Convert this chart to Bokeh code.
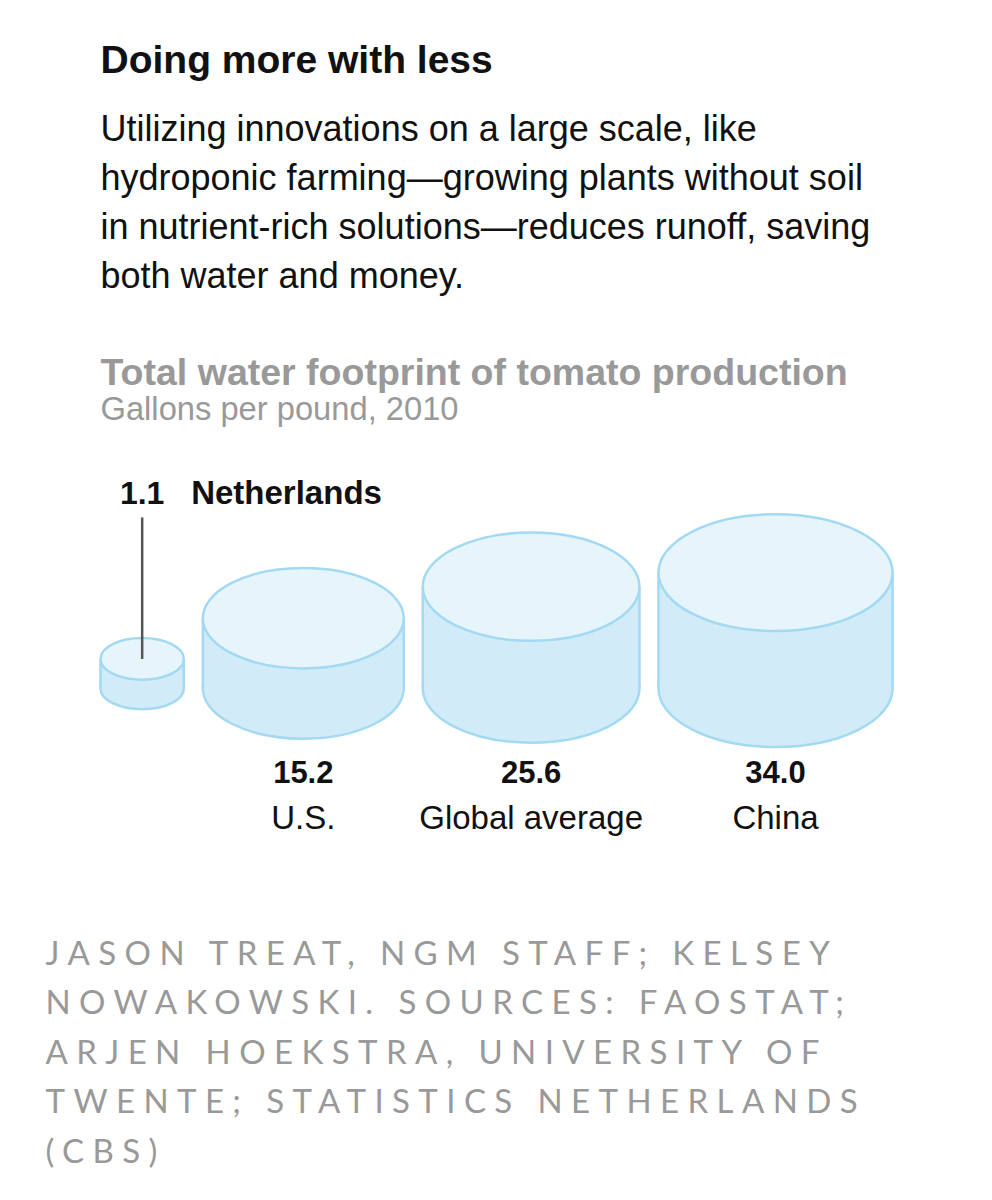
import numpy as np
from bokeh.plotting import figure
from bokeh.models import Range1d, ColumnDataSource
from bokeh.layouts import column
from bokeh.core.properties import value
from bokeh.embed import file_html
from bokeh.resources import INLINE

# ---------------- data ----------------
countries = ["Netherlands", "U.S.", "Global average", "China"]
gallons = [1.1, 15.2, 25.6, 34.0]
value_labels = ["1.1", "15.2", "25.6", "34.0"]

title = "Doing more with less"
body_lines = [
    "Utilizing innovations on a large scale, like",
    "hydroponic farming\u2014growing plants without soil",
    "in nutrient-rich solutions\u2014reduces runoff, saving",
    "both water and money.",
]
chart_title = "Total water footprint of tomato production"
chart_subtitle = "Gallons per pound, 2010"
credit_lines = [
    "JASON TREAT, NGM STAFF; KELSEY",
    "NOWAKOWSKI. SOURCES: FAOSTAT;",
    "ARJEN HOEKSTRA, UNIVERSITY OF",
    "TWENTE; STATISTICS NETHERLANDS",
    "(CBS)",
]

# ---------------- layout / style ----------------
W, H_MAIN, H_CRED = 992, 900, 300
shape = [0.71, 0.70, 0.94, 0.99]     # side height / radius of each cylinder
VOL_K = 46700.0                      # volume (px^3) per gallon/lb
GAP = 19
X0 = 100
BASE = 688                           # y of bottom-ellipse centre
TILT = 0.5                           # ellipse height / width
FONT = "Liberation Sans"
EDGE = "#a3d9f2"
SIDE = "#d2ebf8"
TOP = "#e6f5fc"
GRAY = "#999999"
INK = "#111111"
DY = -13                             # baseline correction for text

radius = [float(np.cbrt(VOL_K * g / a)) for g, a in zip(gallons, shape)]
height = [a * r for a, r in zip(shape, radius)]
cx = []
x = X0
for r in radius:
    cx.append(x + r)
    x += 2 * r + GAP
top_y = [BASE - h for h in height]

src = ColumnDataSource(dict(
    cx=cx,
    w=[2 * r for r in radius],
    eh=[2 * r * TILT for r in radius],
    left=[c - r for c, r in zip(cx, radius)],
    right=[c + r for c, r in zip(cx, radius)],
    top=top_y,
    base=[BASE] * len(cx),
))

p = figure(width=W, height=H_MAIN, x_range=Range1d(0, W), y_range=Range1d(H_MAIN, 0),
           output_backend="svg", toolbar_location=None, x_axis_type=None, y_axis_type=None,
           min_border=0)
p.grid.visible = False
p.outline_line_color = None
p.background_fill_color = "white"
p.border_fill_color = "white"

# cylinders
p.ellipse(x="cx", y="base", width="w", height="eh", source=src,
          fill_color=SIDE, line_color=EDGE, line_width=2.5)
p.quad(left="left", right="right", top="top", bottom="base", source=src,
       fill_color=SIDE, line_color=None)
p.segment(x0="left", y0="top", x1="left", y1="base", source=src, line_color=EDGE, line_width=2.5)
p.segment(x0="right", y0="top", x1="right", y1="base", source=src, line_color=EDGE, line_width=2.5)
p.ellipse(x="cx", y="top", width="w", height="eh", source=src,
          fill_color=TOP, line_color=EDGE, line_width=2.5)

# texts at top
p.text(x=[100], y=[72 + DY], text=[title], text_font=value(FONT), text_font_size="39px",
       text_font_style="bold", text_color=INK, text_baseline="alphabetic")
p.text(x=[100] * 4, y=[141 + DY + 49 * i for i in range(4)], text=body_lines,
       text_font=value(FONT), text_font_size="36px", text_color=INK, text_baseline="alphabetic")
p.text(x=[100], y=[384 + DY], text=[chart_title], text_font=value(FONT), text_font_size="37.5px",
       text_font_style="bold", text_color=GRAY, text_baseline="alphabetic")
p.text(x=[100], y=[421 + DY], text=[chart_subtitle], text_font=value(FONT), text_font_size="32.7px",
       text_color=GRAY, text_baseline="alphabetic")

# Netherlands label with leader line
p.segment(x0=[cx[0]], y0=[517], x1=[cx[0]], y1=[top_y[0]], line_color="#555555", line_width=2.5)
p.text(x=[cx[0]], y=[505 + DY], text=[value_labels[0]], text_font=value(FONT), text_font_size="32px",
       text_font_style="bold", text_color=INK, text_align="center", text_baseline="alphabetic")
p.text(x=[cx[0] + 49], y=[505 + DY], text=[countries[0]], text_font=value(FONT), text_font_size="33px",
       text_font_style="bold", text_color=INK, text_align="left", text_baseline="alphabetic")

# other labels under the cylinders
p.text(x=cx[1:], y=[784 + DY] * 3, text=value_labels[1:], text_font=value(FONT), text_font_size="31px",
       text_font_style="bold", text_color=INK, text_align="center", text_baseline="alphabetic")
p.text(x=cx[1:], y=[830 + DY] * 3, text=countries[1:], text_font=value(FONT), text_font_size="33px",
       text_color=INK, text_align="center", text_baseline="alphabetic")

# credits in their own figure (letter spaced)
p2 = figure(width=W, height=H_CRED, x_range=Range1d(0, W), y_range=Range1d(H_MAIN + H_CRED, H_MAIN),
            output_backend="svg", toolbar_location=None, x_axis_type=None, y_axis_type=None,
            min_border=0)
p2.grid.visible = False
p2.outline_line_color = None
p2.stylesheets = [":host { letter-spacing: 8.4px; }"]
p2.text(x=[45] * len(credit_lines), y=[964 + DY + 49.6 * i for i in range(len(credit_lines))],
        text=credit_lines, text_font=value("Lato"), text_font_size="33px", text_color=GRAY,
        text_baseline="alphabetic")

layout = column(p, p2, spacing=0)
open("out.html", "w").write(file_html(layout, INLINE))
